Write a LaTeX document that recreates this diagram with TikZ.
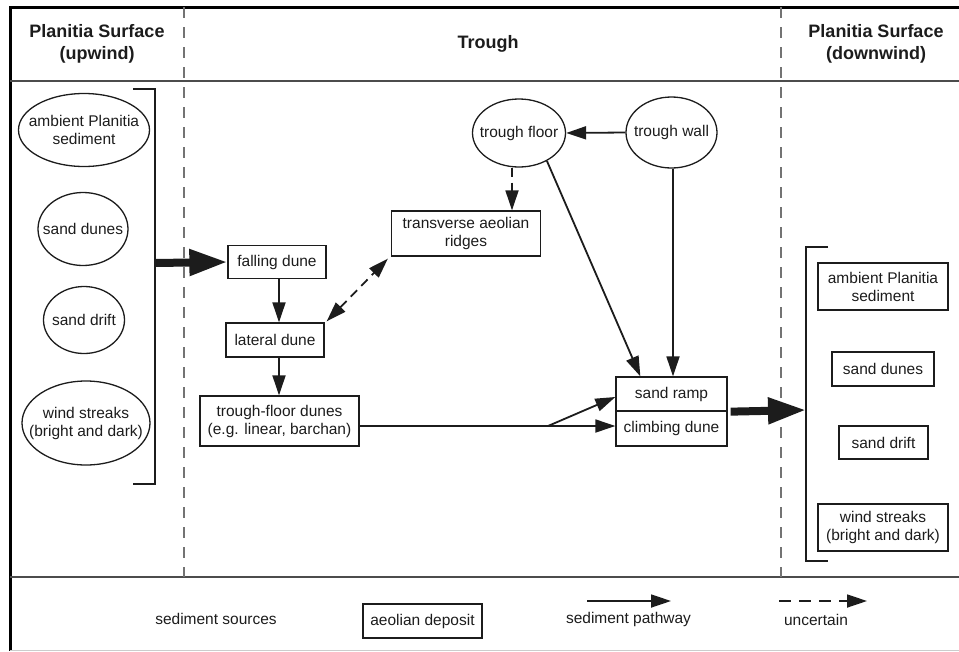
\documentclass[tikz,border=0pt]{standalone}
\usepackage{fontspec}
\setmainfont{Liberation Sans}
\usetikzlibrary{shapes.geometric,arrows.meta}
\definecolor{ink}{HTML}{1C1C1C}
\tikzset{
  txt/.style={text=ink, inner sep=0pt, align=center, font=\fontsize{15.5}{18}\selectfont},
  head/.style={text=ink, inner sep=0pt, align=center, font=\fontsize{18}{22}\selectfont\bfseries},
  src/.style={txt, ellipse, draw=ink, line width=1.3pt, inner xsep=-30pt, inner ysep=-12pt},
  dep/.style={txt, rectangle, draw=ink, line width=1.3pt},
  pathway/.style={draw=ink, line width=1.8pt, -{Triangle[length=20pt,width=13pt]}},
  uncert/.style={pathway, dash pattern=on 9pt off 6pt},
  bigarrow/.style={draw=ink, line width=8pt, -{Triangle[length=38pt,width=25pt]}},
  bracket/.style={draw=ink, line width=2pt},
  divider/.style={draw=black!55, line width=1.3pt, dash pattern=on 11pt off 9pt},
  sepline/.style={draw=black!70, line width=1.6pt}
}
\begin{document}
\begin{tikzpicture}[x=1pt,y=-1pt]
\useasboundingbox (0,0) rectangle (959,651);
% frame
\draw[draw=black, line width=3pt] (959,7) -- (10,7) -- (10,651);
\draw[draw=black!20, line width=1pt] (10,650) -- (959,650);
\draw[sepline] (10,81) -- (959,81);
\draw[sepline] (10,577) -- (959,577);
\draw[divider] (184,7) -- (184,577);
\draw[divider] (781,7) -- (781,577);
% headers
\node[head] (hup) at (97,44) {Planitia Surface\\(upwind)};
\node[head] (htr) at (488,44) {Trough};
\node[head] (hdown) at (876,44) {Planitia Surface\\(downwind)};
% upwind sources
\node[src, minimum width=131pt, minimum height=73pt] (amb) at (84,130) {ambient Planitia\\sediment};
\node[src, minimum width=90pt, minimum height=73pt] (sdun) at (83,229) {sand dunes};
\node[src, minimum width=81pt, minimum height=67pt] (sdr) at (84,320) {sand drift};
\node[src, minimum width=128pt, minimum height=84pt] (ws) at (86,423) {wind streaks\\(bright and dark)};
\draw[bracket] (133,89) -- (155,89) -- (155,484) -- (133,484);
\coordinate (bl) at (155,263);
% trough
\node[dep, minimum width=98pt, minimum height=33pt] (fall) at (277,262) {falling dune};
\node[dep, minimum width=98pt, minimum height=34pt] (lat) at (275,340) {lateral dune};
\node[dep, minimum width=159pt, minimum height=50pt] (tfd) at (279.5,421) {trough-floor dunes\\(e.g. linear, barchan)};
\node[dep, minimum width=149pt, minimum height=45pt] (tar) at (466,233.5) {transverse aeolian\\ridges};
\node[src, minimum width=93pt, minimum height=68pt] (tfloor) at (519,133) {trough floor};
\node[src, minimum width=91pt, minimum height=71pt] (twall) at (671.5,132.5) {trough wall};
\node[dep, minimum width=111pt, minimum height=34pt] (ramp) at (671.5,394) {sand ramp};
\node[dep, minimum width=111pt, minimum height=35pt] (climb) at (671.5,428.5) {climbing dune};
% downwind deposits
\draw[bracket] (828,247) -- (806,247) -- (806,561) -- (828,561);
\coordinate (br) at (806,410);
\node[dep, minimum width=130pt, minimum height=47pt] (ramb) at (883,286.5) {ambient Planitia\\sediment};
\node[dep, minimum width=102pt, minimum height=34pt] (rsd) at (883,369) {sand dunes};
\node[dep, minimum width=89pt, minimum height=33pt] (rdr) at (883.5,442.5) {sand drift};
\node[dep, minimum width=130pt, minimum height=47pt] (rws) at (883,527.5) {wind streaks\\(bright and dark)};
% connectors
\draw[bigarrow] (bl) -- (fall.west);
\draw[pathway] ([xshift=2pt]fall.south) -- ([xshift=2pt]fall.south |- lat.north);
\draw[pathway] ([xshift=4pt]lat.south) -- ([xshift=4pt]lat.south |- tfd.north);
\draw[uncert, {Triangle[length=20pt,width=13pt]}-{Triangle[length=20pt,width=13pt]}] ([xshift=2pt,yshift=1pt]lat.north east) -- ([xshift=-3pt,yshift=-2pt]tar.south west);
\draw[pathway] (twall.west) -- (tfloor.east);
\draw[uncert] ([xshift=-7pt]tfloor.south) -- ([xshift=-7pt]tfloor.south |- tar.north);
\draw[pathway] (tfloor.-45) -- ([xshift=25pt]ramp.north west);
\draw[pathway] ([xshift=1.5pt]twall.south) -- ([xshift=1.5pt]twall.south |- ramp.north);
\coordinate (branch) at (548,426);
\draw[draw=ink, line width=1.8pt] ([yshift=-5pt]tfd.east) -- (branch);
\draw[pathway] (branch) -- (branch -| climb.west);
\draw[pathway] (branch) -- ([yshift=-3pt]ramp.west);
\draw[bigarrow] ([xshift=3pt]ramp.south east) -- (br);
% legend
\node[txt] (lsrc) at (216,619) {sediment sources};
\node[dep, minimum width=119pt, minimum height=34pt] (ldep) at (422.5,621) {aeolian deposit};
\coordinate (lpa) at (587,601);
\coordinate (lpb) at (671,601);
\draw[pathway] (lpa) -- (lpb);
\node[txt] (lpath) at (628.5,619.5) {sediment pathway};
\coordinate (lua) at (779,601);
\coordinate (lub) at (867,601);
\draw[uncert, dash pattern=on 12pt off 8pt] (lua) -- (lub);
\node[txt] (lunc) at (816,619.5) {uncertain};
\end{tikzpicture}
\end{document}
